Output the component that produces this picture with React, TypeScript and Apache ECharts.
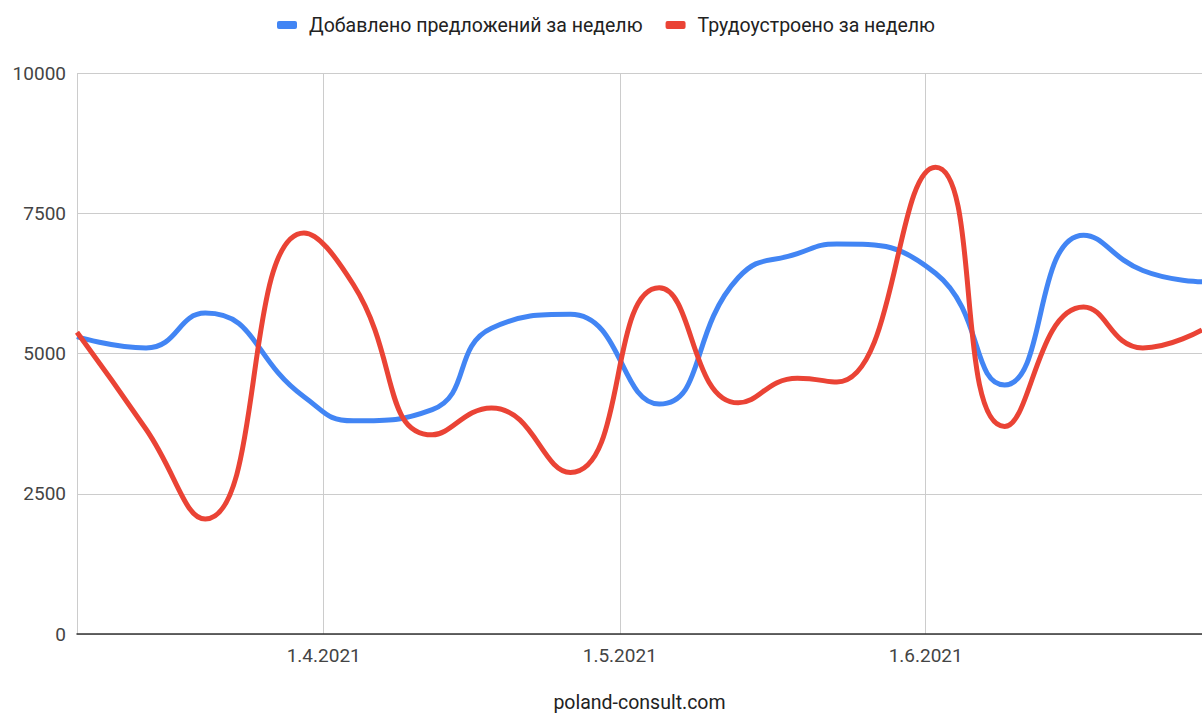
import React, { useEffect, useRef } from "react";
import * as echarts from "echarts";

const dates = [
  "2021-03-07", "2021-03-14", "2021-03-20", "2021-03-30", "2021-04-04",
  "2021-04-12", "2021-04-18", "2021-04-26", "2021-05-05",
  "2021-05-13", "2021-05-19", "2021-05-23", "2021-06-02", "2021-06-09",
  "2021-06-17", "2021-06-23", "2021-06-29",
];
const offersAdded = [
  5300, 5100, 5720, 4230, 3800,
  4000, 5450, 5700, 4100,
  6350, 6780, 6950, 6430, 4440,
  7110, 6480, 6280,
];
const employed = [
  5380, 3650, 2050, 7150, 6230,
  3550, 4030, 2880, 6170,
  4120, 4560, 4490, 8320, 3700,
  5830, 5100, 5420,
];
const seriesNames = ["Добавлено предложений за неделю", "Трудоустроено за неделю"];
const axisTitle = "poland-consult.com";

const FONT = "Roboto, Arial, sans-serif";

export default function App() {
  const ref = useRef<HTMLDivElement>(null);
  useEffect(() => {
    if (!ref.current) return;
    const chart = echarts.init(ref.current, null, { renderer: "svg" });
    const toPairs = (vals: number[]) => dates.map((d, i) => [d, vals[i]]);
    chart.setOption({
      animation: false,
      backgroundColor: "#ffffff",
      textStyle: { fontFamily: FONT },
      color: ["#4285F4", "#EA4335"],
      legend: {
        top: 10,
        left: 272,
        itemWidth: 20,
        itemHeight: 8,
        itemGap: 23,
        icon: "roundRect",
        textStyle: { fontFamily: FONT, fontSize: 19.5, color: "#222", padding: [0, 0, 0, 7] },
        data: seriesNames,
      },
      grid: {
        left: 77,
        right: 0,
        top: 73,
        bottom: 79,
        containLabel: false,
        outerBoundsMode: "none",
      },
      xAxis: {
        type: "time",
        min: new Date(2021, 2, 7).getTime(),
        max: new Date(2021, 5, 29).getTime(),
        minInterval: 28 * 86400000,
        splitNumber: 3,
        name: axisTitle,
        nameLocation: "middle",
        nameGap: 58,
        nameTextStyle: { fontFamily: FONT, fontSize: 19.5, color: "#222" },
        axisLine: { show: true, lineStyle: { color: "#333", width: 1.5 } },
        axisTick: { show: false },
        splitLine: { show: true, lineStyle: { color: "#cccccc", width: 1 } },
        axisLabel: {
          showMinLabel: false,
          showMaxLabel: false,
          margin: 12,
          fontFamily: FONT,
          fontSize: 19,
          color: "#444",
          formatter: (v: number) => {
            const d = new Date(v);
            return `${d.getDate()}.${d.getMonth() + 1}.${d.getFullYear()}`;
          },
        },
      },
      yAxis: {
        type: "value",
        min: 0,
        max: 10000,
        interval: 2500,
        axisLine: { show: false },
        axisTick: { show: false },
        splitLine: { show: true, lineStyle: { color: "#cccccc", width: 1 } },
        axisLabel: {
          margin: 11,
          fontFamily: FONT,
          fontSize: 19,
          color: "#444",
          formatter: (v: number) => String(v),
        },
      },
      series: [
        {
          name: seriesNames[0],
          type: "line",
          smooth: 0.5,
          showSymbol: false,
          symbol: "none",
          lineStyle: { width: 5, color: "#4285F4" },
          itemStyle: { color: "#4285F4" },
          data: toPairs(offersAdded),
        },
        {
          name: seriesNames[1],
          type: "line",
          smooth: 0.5,
          showSymbol: false,
          symbol: "none",
          lineStyle: { width: 5, color: "#EA4335" },
          itemStyle: { color: "#EA4335" },
          data: toPairs(employed),
        },
      ],
    });
    return () => chart.dispose();
  }, []);
  return (
    <div
      ref={ref}
      style={{ position: "fixed", left: 0, top: 0, width: 1202, height: 713, background: "#fff" }}
    />
  );
}
